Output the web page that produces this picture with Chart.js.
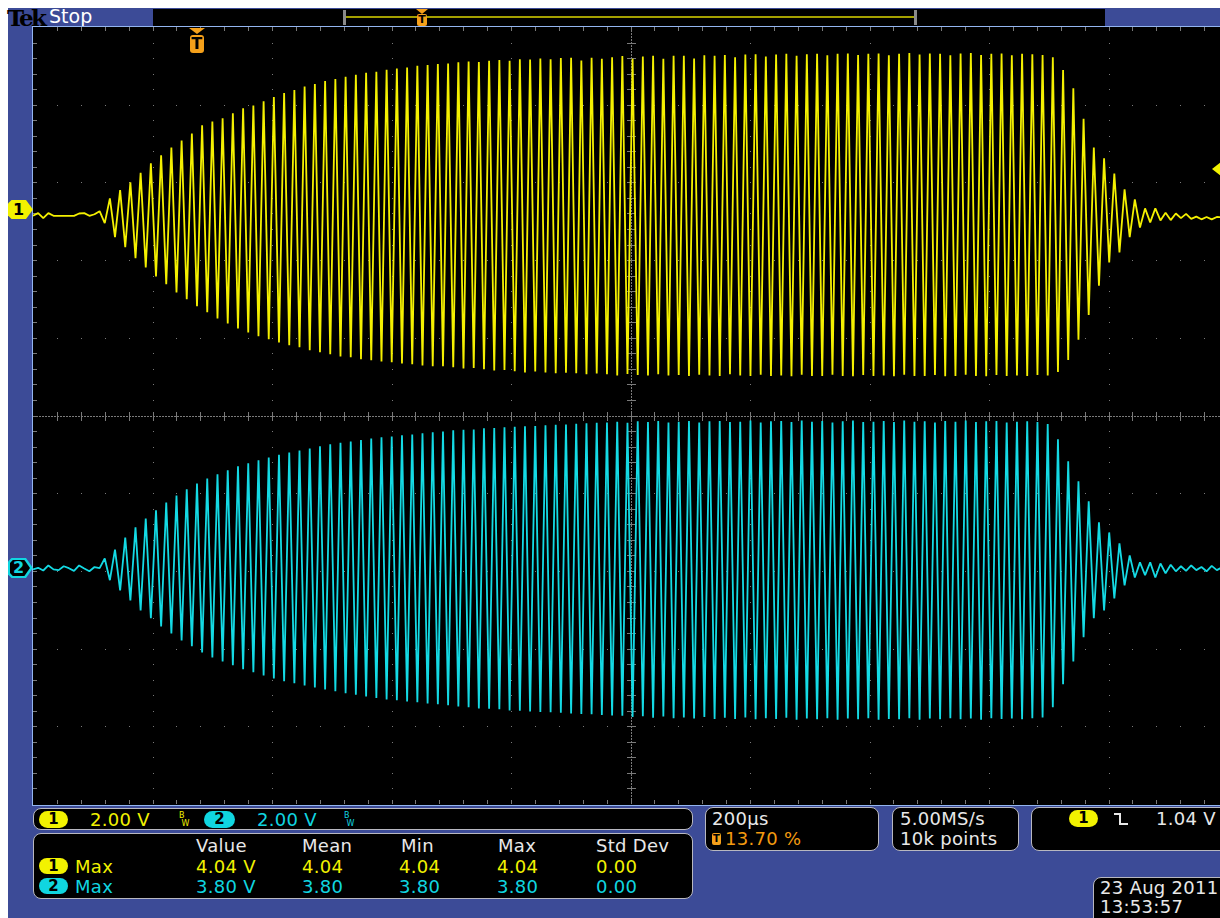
<!DOCTYPE html>
<html>
<head>
<meta charset="utf-8">
<script src="https://cdn.jsdelivr.net/npm/chart.js@4.4.0/dist/chart.umd.min.js"></script>
<style>
html, body { margin: 0; padding: 0; width: 1220px; height: 918px; overflow: hidden; background: #fff; }
body { position: relative; font-family: "DejaVu Sans", sans-serif; }
.abs { position: absolute; white-space: nowrap; }
#screen { left: 8px; top: 8px; width: 1240px; height: 920px; background: #3c4b97; }
#plotFrame { left: 32px; top: 26px; width: 1200px; height: 778px; border-top: 1px solid #93b5f0; border-left: 1px solid #93b5f0; border-bottom: 1px solid #93b5f0; background: #000; }
#scope { position: absolute; left: 33px; top: 27px; }
.box { background: #000; border: 1px solid #b8b8c0; border-radius: 8px; box-sizing: border-box; }
.t18 { font-size: 18px; line-height: 18px; letter-spacing: 0.3px; }
.yel { color: #f2f200; }
.cya { color: #10d6e0; }
.wht { color: #e8e8e8; }
.org { color: #f39a10; }
.pill { height: 17px; border-radius: 9px; font-size: 15px; font-weight: bold; line-height: 17px; text-align: center; color: #000; }
.bw { font-size: 8px; line-height: 8px; }
</style>
</head>
<body>
<div class="abs" id="screen"></div>

<!-- header -->
<div class="abs" style="left:7px;top:4px;font-family:'DejaVu Serif',serif;font-weight:bold;font-size:23px;letter-spacing:-2.5px;color:#000;">Tek</div>
<div class="abs" style="left:49px;top:5px;font-size:19px;color:#fff;">Stop</div>
<div class="abs" style="left:153px;top:9px;width:952px;height:17px;background:#000;"></div>
<div class="abs" style="left:343px;top:10px;width:3px;height:15px;background:#8a8a8a;"></div>
<div class="abs" style="left:914px;top:10px;width:3px;height:15px;background:#8a8a8a;"></div>
<div class="abs" style="left:346px;top:16px;width:568px;height:2px;background:#a4a000;"></div>
<div class="abs" style="left:416px;top:9px;width:0;height:0;border-left:6px solid transparent;border-right:6px solid transparent;border-top:5px solid #f5a01a;"></div>
<div class="abs" style="left:417px;top:14px;width:10px;height:12px;background:#f5a01a;border-radius:2px;font-size:11px;line-height:12px;font-weight:bold;text-align:center;color:#000;">T</div>

<div class="abs" id="plotFrame"></div>
<canvas id="scope" width="1195" height="777"></canvas>

<!-- trigger position marker -->
<div class="abs" style="left:189px;top:28px;width:0;height:0;border-left:8px solid transparent;border-right:8px solid transparent;border-top:6px solid #f5a01a;"></div>
<div class="abs" style="left:190px;top:35px;width:14px;height:18px;background:#f5a01a;border-radius:3px;font-size:16px;line-height:18px;font-weight:bold;text-align:center;color:#000;">T</div>

<!-- channel ground markers -->
<div class="abs" style="left:8px;top:200px;width:25px;height:19px;background:#f2f200;clip-path:polygon(0 18%,14% 0,72% 0,100% 50%,72% 100%,14% 100%,0 82%);font-size:16px;font-weight:bold;line-height:19px;color:#000;text-indent:5px;">1</div>
<div class="abs" style="left:8px;top:558px;width:25px;height:20px;background:#10d6e0;clip-path:polygon(0 18%,14% 0,72% 0,100% 50%,72% 100%,14% 100%,0 82%);"></div>
<div class="abs" style="left:10px;top:560px;width:20px;height:16px;background:#000;clip-path:polygon(0 18%,14% 0,72% 0,100% 50%,72% 100%,14% 100%,0 82%);font-size:16px;font-weight:bold;line-height:16px;color:#10d6e0;text-indent:3px;">2</div>
<!-- trigger level marker -->
<div class="abs" style="left:1212px;top:162px;width:9px;height:14px;background:#f2f200;clip-path:polygon(0 50%,100% 0,100% 100%);"></div>

<!-- bottom readouts -->
<div class="abs box" style="left:33px;top:808px;width:660px;height:22px;"></div>
<div class="abs pill" style="left:39px;top:811px;width:29px;background:#f2f200;">1</div>
<div class="abs t18 yel" style="left:90px;top:811px;">2.00 V</div>
<div class="abs bw yel" style="left:179px;top:812px;">B<br>&nbsp;W</div>
<div class="abs pill" style="left:204px;top:811px;width:31px;background:#10d6e0;">2</div>
<div class="abs t18 cya" style="left:257px;top:811px;">2.00 V</div>
<div class="abs bw cya" style="left:344px;top:812px;">B<br>&nbsp;W</div>

<div class="abs box" style="left:33px;top:833px;width:660px;height:66px;"></div>
<div class="abs t18 wht" style="left:196px;top:837px;">Value</div>
<div class="abs t18 wht" style="left:302px;top:837px;">Mean</div>
<div class="abs t18 wht" style="left:401px;top:837px;">Min</div>
<div class="abs t18 wht" style="left:498px;top:837px;">Max</div>
<div class="abs t18 wht" style="left:596px;top:837px;">Std Dev</div>

<div class="abs pill" style="left:39px;top:858px;width:29px;height:16px;line-height:16px;background:#f2f200;">1</div>
<div class="abs t18 yel" style="left:75px;top:858px;">Max</div>
<div class="abs t18 yel" style="left:196px;top:858px;">4.04 V</div>
<div class="abs t18 yel" style="left:302px;top:858px;">4.04</div>
<div class="abs t18 yel" style="left:399px;top:858px;">4.04</div>
<div class="abs t18 yel" style="left:497px;top:858px;">4.04</div>
<div class="abs t18 yel" style="left:596px;top:858px;">0.00</div>

<div class="abs pill" style="left:39px;top:878px;width:29px;height:16px;line-height:16px;background:#10d6e0;">2</div>
<div class="abs t18 cya" style="left:75px;top:878px;">Max</div>
<div class="abs t18 cya" style="left:196px;top:878px;">3.80 V</div>
<div class="abs t18 cya" style="left:302px;top:878px;">3.80</div>
<div class="abs t18 cya" style="left:399px;top:878px;">3.80</div>
<div class="abs t18 cya" style="left:497px;top:878px;">3.80</div>
<div class="abs t18 cya" style="left:596px;top:878px;">0.00</div>

<div class="abs box" style="left:705px;top:807px;width:174px;height:44px;"></div>
<div class="abs t18 wht" style="left:712px;top:810px;">200µs</div>
<div class="abs" style="left:712px;top:833px;width:9px;height:12px;background:#f5a01a;border-radius:2px;font-size:10px;line-height:12px;font-weight:bold;text-align:center;color:#000;">T</div>
<div class="abs t18 org" style="left:725px;top:830px;">13.70 %</div>

<div class="abs box" style="left:892px;top:807px;width:127px;height:44px;"></div>
<div class="abs t18 wht" style="left:900px;top:810px;">5.00MS/s</div>
<div class="abs t18 wht" style="left:900px;top:830px;">10k points</div>

<div class="abs box" style="left:1031px;top:807px;width:210px;height:44px;"></div>
<div class="abs pill" style="left:1069px;top:810px;width:29px;background:#f2f200;">1</div>
<svg class="abs" style="left:1112px;top:811px;" width="18" height="16"><polyline points="2,3 8,3 8,13 16,13" fill="none" stroke="#e8e8e8" stroke-width="2"/></svg>
<div class="abs t18 wht" style="left:1156px;top:810px;">1.04 V</div>

<div class="abs box" style="left:1093px;top:877px;width:150px;height:50px;"></div>
<div class="abs t18 wht" style="left:1100px;top:879px;">23 Aug 2011</div>
<div class="abs t18 wht" style="left:1100px;top:898px;">13:53:57</div>

<script>
// horizontal: 200 µs/div, 10 div; vertical: 2.00 V/div, 10 div
const timePerDiv = 200;
const voltsPerDiv = 2;
const ch1Position = 2.57;   // div above centre
const ch2Position = -1.98;  // div below centre
const sampleStep = 8.577;   // µs between plotted samples (half a cycle)

// channel 1 (V): samples before the burst, cycle peaks, cycle troughs, ringing after
const ch1Pre = [0, 0.07, -0.06, 0.07, 0, 0, 0, 0, 0, 0.06, 0.07, 0, 0.04, 0.12];
const ch1Peaks = [
  0.45, 0.66, 0.86, 1.11, 1.35, 1.56, 1.76, 1.94, 2.12, 2.33,
  2.43, 2.51, 2.64, 2.77, 2.84, 2.95, 3.06, 3.16, 3.24, 3.33,
  3.39, 3.47, 3.52, 3.58, 3.63, 3.68, 3.71, 3.76, 3.79, 3.82,
  3.86, 3.88, 3.91, 3.92, 3.95, 3.97, 3.96, 3.99, 4.01, 3.99,
  4.03, 4.02, 4.05, 4.03, 4.06, 4.07, 4.00, 4.07, 4.04, 4.08,
  4.11, 4.04, 4.10, 4.12, 4.04, 4.12, 4.12, 4.05, 4.13, 4.12,
  4.14, 4.08, 4.15, 4.16, 4.10, 4.15, 4.17, 4.12, 4.16, 4.17,
  4.13, 4.17, 4.18, 4.14, 4.17, 4.18, 4.13, 4.17, 4.19, 4.15,
  4.18, 4.17, 4.13, 4.18, 4.19, 4.14, 4.17, 4.18, 4.13, 4.17,
  4.16, 4.14, 4.08, 3.75, 3.28, 2.50, 1.76, 1.48, 1.09, 0.68,
  0.42, 0.19
];
const ch1Troughs = [
  -0.19, -0.55, -0.81, -1.09, -1.33, -1.56, -1.76, -1.97, -2.15, -2.33,
  -2.48, -2.64, -2.77, -2.90, -3.00, -3.10, -3.18, -3.26, -3.33, -3.38,
  -3.46, -3.51, -3.56, -3.62, -3.64, -3.69, -3.72, -3.75, -3.77, -3.80,
  -3.82, -3.85, -3.87, -3.87, -3.90, -3.93, -3.92, -3.95, -3.98, -3.97,
  -4.00, -4.03, -4.01, -4.03, -4.05, -4.04, -4.05, -4.08, -4.06, -4.08,
  -4.11, -4.07, -4.10, -4.11, -4.08, -4.11, -4.10, -4.12, -4.09, -4.11,
  -4.12, -4.08, -4.11, -4.12, -4.09, -4.12, -4.11, -4.13, -4.09, -4.12,
  -4.12, -4.09, -4.12, -4.13, -4.10, -4.12, -4.11, -4.13, -4.09, -4.12,
  -4.12, -4.10, -4.13, -4.12, -4.09, -4.12, -4.13, -4.10, -4.12, -4.11,
  -4.12, -4.10, -4.11, -4.02, -3.71, -3.19, -2.55, -1.80, -1.20, -0.94,
  -0.55, -0.30, -0.17
];
const ch1Post = [0.19, -0.12, 0.08, -0.11, 0.06, -0.06, 0.05, -0.08, -0.02, -0.09, -0.03, -0.09, -0.03, -0.04, -0.04];

// channel 2 (V)
const ch2Pre = [0, 0.04, -0.03, 0.10, 0, -0.02, 0.08, 0.03, -0.04, 0.10, 0.02, -0.05, 0.06, 0.03];
const ch2Peaks = [
  0.28, 0.51, 0.82, 1.08, 1.31, 1.52, 1.72, 1.90, 2.06, 2.21,
  2.34, 2.45, 2.55, 2.65, 2.73, 2.81, 2.88, 2.95, 3.01, 3.06,
  3.11, 3.17, 3.22, 3.26, 3.29, 3.33, 3.37, 3.40, 3.42, 3.45,
  3.47, 3.50, 3.53, 3.55, 3.58, 3.59, 3.60, 3.63, 3.64, 3.66,
  3.67, 3.68, 3.69, 3.71, 3.72, 3.73, 3.75, 3.76, 3.77, 3.78,
  3.80, 3.77, 3.81, 3.79, 3.82, 3.78, 3.80, 3.82, 3.78, 3.81,
  3.82, 3.79, 3.80, 3.83, 3.78, 3.81, 3.82, 3.79, 3.83, 3.80,
  3.82, 3.78, 3.81, 3.83, 3.79, 3.80, 3.82, 3.79, 3.83, 3.80,
  3.81, 3.78, 3.82, 3.80, 3.83, 3.79, 3.81, 3.82, 3.78, 3.80,
  3.81, 3.79, 3.74, 3.35, 2.78, 2.27, 1.75, 1.21, 0.95, 0.67,
  0.36, 0.18, 0.18
];
const ch2Troughs = [
  -0.28, -0.54, -0.80, -1.06, -1.26, -1.47, -1.65, -1.83, -1.98, -2.14,
  -2.27, -2.37, -2.47, -2.57, -2.65, -2.73, -2.81, -2.88, -2.93, -2.99,
  -3.04, -3.09, -3.14, -3.19, -3.23, -3.27, -3.31, -3.35, -3.37, -3.40,
  -3.42, -3.45, -3.47, -3.50, -3.53, -3.55, -3.58, -3.59, -3.60, -3.63,
  -3.64, -3.66, -3.67, -3.68, -3.69, -3.71, -3.72, -3.73, -3.75, -3.76,
  -3.77, -3.80, -3.78, -3.82, -3.79, -3.83, -3.81, -3.84, -3.80, -3.85,
  -3.82, -3.85, -3.81, -3.86, -3.83, -3.85, -3.82, -3.87, -3.84, -3.86,
  -3.83, -3.87, -3.84, -3.86, -3.83, -3.87, -3.85, -3.86, -3.83, -3.87,
  -3.84, -3.86, -3.83, -3.86, -3.84, -3.87, -3.83, -3.85, -3.84, -3.86,
  -3.83, -3.81, -3.55, -2.96, -2.37, -1.75, -1.26, -1.06, -0.75, -0.41,
  -0.21, -0.15
];
const ch2Post = [-0.21, 0.15, -0.10, 0.12, -0.05, 0.08, -0.04, 0.10, -0.02, 0.06, -0.05, 0.09, -0.02, 0.05, -0.03];

function buildTrace(pre, first, second, post) {
  const vals = pre.slice();
  const n = Math.max(first.length, second.length);
  for (let k = 0; k < n; k++) {
    if (k < first.length) vals.push(first[k]);
    if (k < second.length) vals.push(second[k]);
  }
  return vals.concat(post).map((v, i) => ({ x: i * sampleStep, y: v }));
}

const graticule = {
  id: 'graticule',
  beforeDatasetsDraw(chart) {
    const { ctx, chartArea: a, scales } = chart;
    const xs = scales.x, gy = scales.grid;
    const px = d => Math.round(xs.getPixelForValue(d * timePerDiv));
    const py = d => Math.round(gy.getPixelForValue(d));
    ctx.save();
    ctx.fillStyle = '#7a7a7a';
    // dotted major lines
    for (let i = 1; i < 10; i++) {
      if (i === 5) continue;
      for (let j = 1; j < 50; j++) ctx.fillRect(px(i), py(-5 + j * 0.2), 1, 1);
    }
    for (let i = -4; i <= 4; i++) {
      if (i === 0) continue;
      for (let j = 1; j < 50; j++) ctx.fillRect(px(j * 0.2), py(i), 1, 1);
    }
    // centre cross
    const cx = px(5), cy = py(0);
    for (let x = a.left; x < a.right; x += 3) ctx.fillRect(x, cy, 2, 1);
    for (let y = a.top; y < a.bottom; y += 3) ctx.fillRect(cx, y, 1, 2);
    for (let j = 1; j < 50; j++) {
      ctx.fillRect(px(j * 0.2), cy - 4, 1, 9);
      ctx.fillRect(px(j * 0.2), a.top, 1, 4);
      ctx.fillRect(px(j * 0.2), a.bottom - 4, 1, 4);
      ctx.fillRect(cx - 4, py(-5 + j * 0.2), 9, 1);
      ctx.fillRect(a.left, py(-5 + j * 0.2), 4, 1);
    }
    ctx.restore();
  }
};

new Chart(document.getElementById('scope'), {
  type: 'line',
  data: {
    datasets: [
      {
        data: buildTrace(ch2Pre, ch2Peaks, ch2Troughs, ch2Post),
        yAxisID: 'y2',
        borderColor: '#14dae4',
        borderWidth: 1.8
      },
      {
        data: buildTrace(ch1Pre, ch1Troughs, ch1Peaks, ch1Post),
        yAxisID: 'y1',
        borderColor: '#f4f000',
        borderWidth: 1.8
      }
    ]
  },
  options: {
    responsive: false,
    animation: false,
    events: [],
    layout: { padding: 0 },
    elements: {
      point: { radius: 0 },
      line: { tension: 0, borderJoinStyle: 'bevel' }
    },
    scales: {
      x: { type: 'linear', axis: 'x', min: 0, max: 10 * timePerDiv, display: false },
      y1: { type: 'linear', axis: 'y', min: (-5 - ch1Position) * voltsPerDiv, max: (5 - ch1Position) * voltsPerDiv, display: false },
      y2: { type: 'linear', axis: 'y', min: (-5 - ch2Position) * voltsPerDiv, max: (5 - ch2Position) * voltsPerDiv, display: false },
      grid: { type: 'linear', axis: 'y', min: -5, max: 5, display: false }
    },
    plugins: {
      legend: { display: false },
      tooltip: { enabled: false }
    }
  },
  plugins: [graticule]
});
</script>
</body>
</html>
